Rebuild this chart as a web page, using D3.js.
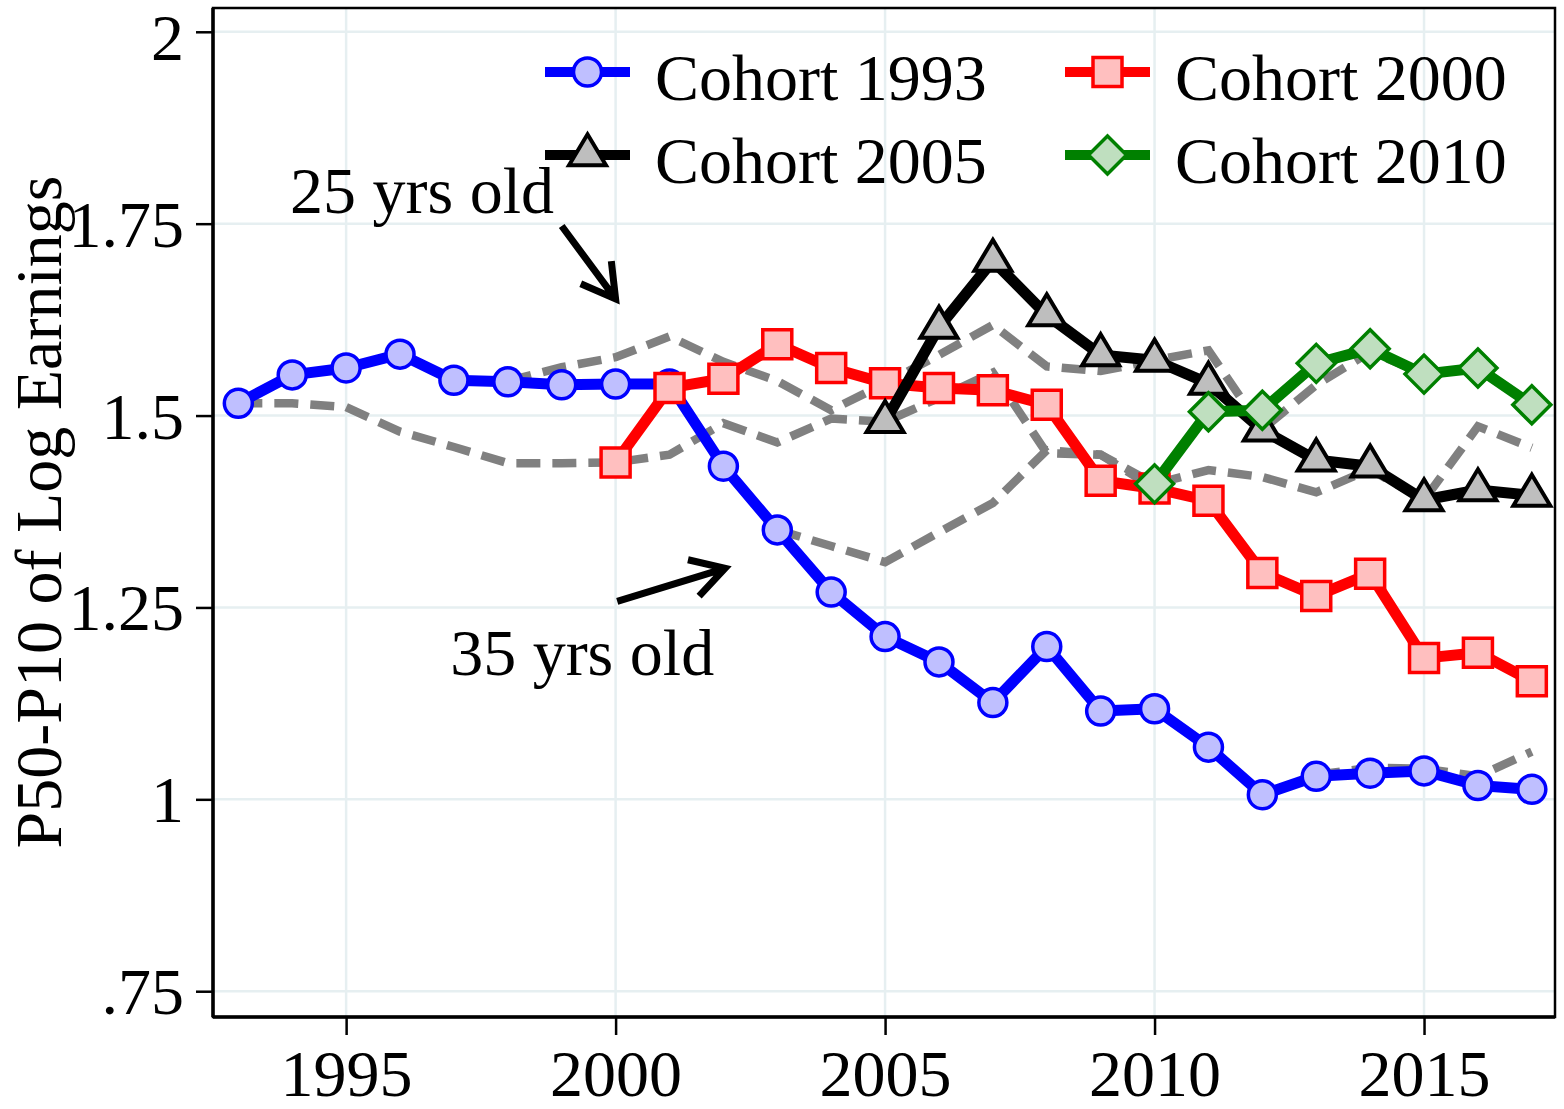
<!DOCTYPE html>
<html><head><meta charset="utf-8">
<script src="https://cdn.jsdelivr.net/npm/d3@7"></script>
<style>body{margin:0;background:#fff} svg{display:block}</style>
</head><body>
<svg id="c" width="1564" height="1109"></svg>
<script>
// ---------- data ----------
const years1993 = [1993,1994,1995,1996,1997,1998,1999,2000,2001,2002,2003,2004,2005,2006,2007,2008,2009,2010,2011,2012,2013,2014,2015,2016,2017];
const cohort1993 = [1.516,1.553,1.562,1.580,1.546,1.544,1.540,1.541,1.541,1.434,1.351,1.270,1.212,1.179,1.126,1.199,1.115,1.118,1.068,1.006,1.030,1.034,1.037,1.018,1.013];
const years2000 = [2000,2001,2002,2003,2004,2005,2006,2007,2008,2009,2010,2011,2012,2013,2014,2015,2016,2017];
const cohort2000 = [1.439,1.536,1.548,1.593,1.562,1.542,1.536,1.533,1.514,1.415,1.405,1.389,1.295,1.265,1.294,1.184,1.191,1.154];
const years2005 = [2005,2006,2007,2008,2009,2010,2011,2012,2013,2014,2015,2016,2017];
const cohort2005 = [1.492,1.615,1.702,1.631,1.579,1.572,1.542,1.481,1.442,1.434,1.390,1.403,1.396];
const years2010 = [2010,2011,2012,2013,2014,2015,2016,2017];
const cohort2010 = [1.411,1.505,1.507,1.568,1.587,1.554,1.562,1.514];

// gray dashed age profiles
const ageYearsA = [1993,1994,1995,1996,1997,1998,1999,2000,2001,2002,2003,2004,2005,2006,2007,2008,2009,2010,2011,2012,2013,2014,2015,2016,2017];
const ageLineA  = [1.516,1.516,1.511,1.479,1.459,1.438,1.438,1.439,1.449,1.490,1.465,1.496,1.492,1.523,1.556,1.451,1.449,1.411,1.429,1.420,1.400,1.430,1.390,1.486,1.458];
const ageYearsB = [1998,1999,2000,2001,2002,2003,2004,2005,2006,2007,2008,2009,2010,2011,2012,2013,2014,2015];
const ageLineB  = [1.545,1.563,1.576,1.603,1.570,1.545,1.507,1.542,1.579,1.618,1.564,1.558,1.572,1.585,1.482,1.540,1.583,1.555];
const ageYearsC = [2003,2004,2005,2006,2007,2008,2009,2010];
const ageLineC  = [1.351,1.330,1.309,1.348,1.386,1.455,1.449,1.405];
const ageYearsD = [2013,2014,2015,2016,2017];
const ageLineD  = [1.032,1.041,1.040,1.030,1.062];

const xTicks = [1995,2000,2005,2010,2015];
const xTickLabels = ["1995","2000","2005","2010","2015"];
const yTicks = [0.75,1,1.25,1.5,1.75,2];
const yTickLabels = [".75","1","1.25","1.5","1.75","2"];
const legendLabels = ["Cohort 1993","Cohort 2000","Cohort 2005","Cohort 2010"];
const yTitle = "P50-P10 of Log Earnings";
const annotTexts = ["25 yrs old","35 yrs old"];

// ---------- layout ----------
const FONT = "'Liberation Serif','Times New Roman',Times,serif";
const svg = d3.select("#c");
const L = 213, R = 1555, T = 8, B = 1017;
const x = d3.scaleLinear().domain([1992.53, 2017.43]).range([L, R]);
const y = d3.scaleLinear().domain([0.7164, 2.031]).range([B, T]);

// grid
const grid = svg.append("g");
grid.selectAll("line.gx").data(xTicks).join("line")
  .attr("x1", d => x(d)).attr("x2", d => x(d)).attr("y1", T).attr("y2", B)
  .attr("stroke", "#e6eff1").attr("stroke-width", 2.5);
grid.selectAll("line.gy").data(yTicks).join("line")
  .attr("x1", L).attr("x2", R).attr("y1", d => y(d)).attr("y2", d => y(d))
  .attr("stroke", "#e6eff1").attr("stroke-width", 2.5);

// frame
svg.append("rect").attr("x", L).attr("y", T).attr("width", R - L).attr("height", B - T)
  .attr("fill", "none").attr("stroke", "#000").attr("stroke-width", 2.5);

// axes
const yAxis = d3.axisLeft(y).tickValues(yTicks).tickSize(17).tickPadding(12)
  .tickFormat((d, i) => yTickLabels[i]);
const gy = svg.append("g").attr("transform", `translate(${L},0)`).call(yAxis);
gy.select(".domain").attr("stroke-width", 3.5).attr("d", `M0,${T}V${B}`);
gy.selectAll(".tick line").attr("stroke-width", 2.5);
gy.selectAll(".tick text").attr("font-family", FONT).attr("font-size", 66).attr("fill", "#000")
  .attr("dy", d => d === 2 ? "0.42em" : "0.34em");

const xAxis = d3.axisBottom(x).tickValues(xTicks).tickSize(18).tickPadding(14)
  .tickFormat((d, i) => xTickLabels[i]);
const gx = svg.append("g").attr("transform", `translate(0,${B})`).call(xAxis);
gx.select(".domain").attr("stroke-width", 3.5).attr("d", `M${L},0H${R}`);
gx.selectAll(".tick line").attr("stroke-width", 2.5);
gx.selectAll(".tick text").attr("font-family", FONT).attr("font-size", 66).attr("fill", "#000").attr("dy", "0.71em");

// y title
svg.append("text").attr("transform", `translate(61,${512}) rotate(-90)`)
  .attr("text-anchor", "middle").attr("font-family", FONT).attr("font-size", 66)
  .text(yTitle);

// ---------- marks ----------
const lineGen = d3.line().x(d => x(d[0])).y(d => y(d[1]));
const zip = (a, b) => a.map((v, i) => [v, b[i]]);

const dashG = svg.append("g");
[[ageYearsA, ageLineA],[ageYearsB, ageLineB],[ageYearsC, ageLineC],[ageYearsD, ageLineD]].forEach(([yy, vv]) => {
  dashG.append("path").attr("d", lineGen(zip(yy, vv)))
    .attr("fill", "none").attr("stroke", "#808080").attr("stroke-width", 8.5)
    .attr("stroke-dasharray", "24,12").attr("stroke-linejoin", "miter");
});

function markerPath(type) {
  if (type === "circle") { const r = 14; return `M${r},0A${r},${r} 0 1,1 ${-r},0A${r},${r} 0 1,1 ${r},0Z`; }
  if (type === "square") { const h = 14.5; return `M${-h},${-h}H${h}V${h}H${-h}Z`; }
  if (type === "triangle") { const w = 18.5, hh = 31; return `M0,${-hh*2/3}L${w},${hh/3}L${-w},${hh/3}Z`; }
  if (type === "diamond") { const h = 19; return `M0,${-h}L${h},0L0,${h}L${-h},0Z`; }
}

const series = [
  {years: years1993, vals: cohort1993, color: "#0000ff", fill: "#bfbfff", m: "circle", sw: 3.5},
  {years: years2000, vals: cohort2000, color: "#ff0000", fill: "#ffbfbf", m: "square", sw: 3.5},
  {years: years2005, vals: cohort2005, color: "#000000", fill: "#bebebe", m: "triangle", sw: 4},
  {years: years2010, vals: cohort2010, color: "#008000", fill: "#bfdfbf", m: "diamond", sw: 3.5},
];
series.forEach(s => {
  const g = svg.append("g");
  g.append("path").attr("d", lineGen(zip(s.years, s.vals)))
    .attr("fill", "none").attr("stroke", s.color).attr("stroke-width", 11).attr("stroke-linejoin", "round");
  g.selectAll("path.m").data(zip(s.years, s.vals)).join("path").attr("class", "m")
    .attr("d", markerPath(s.m)).attr("transform", d => `translate(${x(d[0])},${y(d[1])})`)
    .attr("fill", s.fill).attr("stroke", s.color).attr("stroke-width", s.sw).attr("stroke-linejoin", "miter");
});

// ---------- annotations ----------
const ann = svg.append("g").attr("font-family", FONT).attr("font-size", 66);
ann.append("text").attr("x", x(1993.96)).attr("y", y(1.764)).text(annotTexts[0]);
ann.append("text").attr("x", x(1996.93)).attr("y", y(1.162)).text(annotTexts[1]);
function arrow(x0, y0, x1, y1) {
  const X0 = x(x0), Y0 = y(y0), X1 = x(x1), Y1 = y(y1);
  const a = Math.atan2(Y1 - Y0, X1 - X0), len = 38, sp = Math.PI / 6;
  ann.append("path")
    .attr("d", `M${X0},${Y0}L${X1},${Y1}M${X1 - len*Math.cos(a - sp)},${Y1 - len*Math.sin(a - sp)}L${X1},${Y1}L${X1 - len*Math.cos(a + sp)},${Y1 - len*Math.sin(a + sp)}`)
    .attr("fill", "none").attr("stroke", "#000").attr("stroke-width", 7).attr("stroke-linecap", "butt");
}
arrow(1999.0, 1.747, 2000.0, 1.652);
arrow(2000.03, 1.258, 2002.03, 1.301);

// ---------- legend ----------
const leg = svg.append("g");
const legPos = [[545, 72], [1065, 72], [545, 155], [1065, 155]];
series.forEach((s, i) => {
  const [lx, ly] = legPos[i];
  const w = 85;
  leg.append("line").attr("x1", lx).attr("x2", lx + w).attr("y1", ly).attr("y2", ly)
    .attr("stroke", s.color).attr("stroke-width", 10);
  leg.append("path").attr("d", markerPath(s.m)).attr("transform", `translate(${lx + w/2},${ly})`)
    .attr("fill", s.fill).attr("stroke", s.color).attr("stroke-width", s.sw);
  leg.append("text").attr("x", lx + 110).attr("y", ly + 28).attr("font-family", FONT)
    .attr("font-size", 66).text(legendLabels[i]);
});
</script>
</body></html>
